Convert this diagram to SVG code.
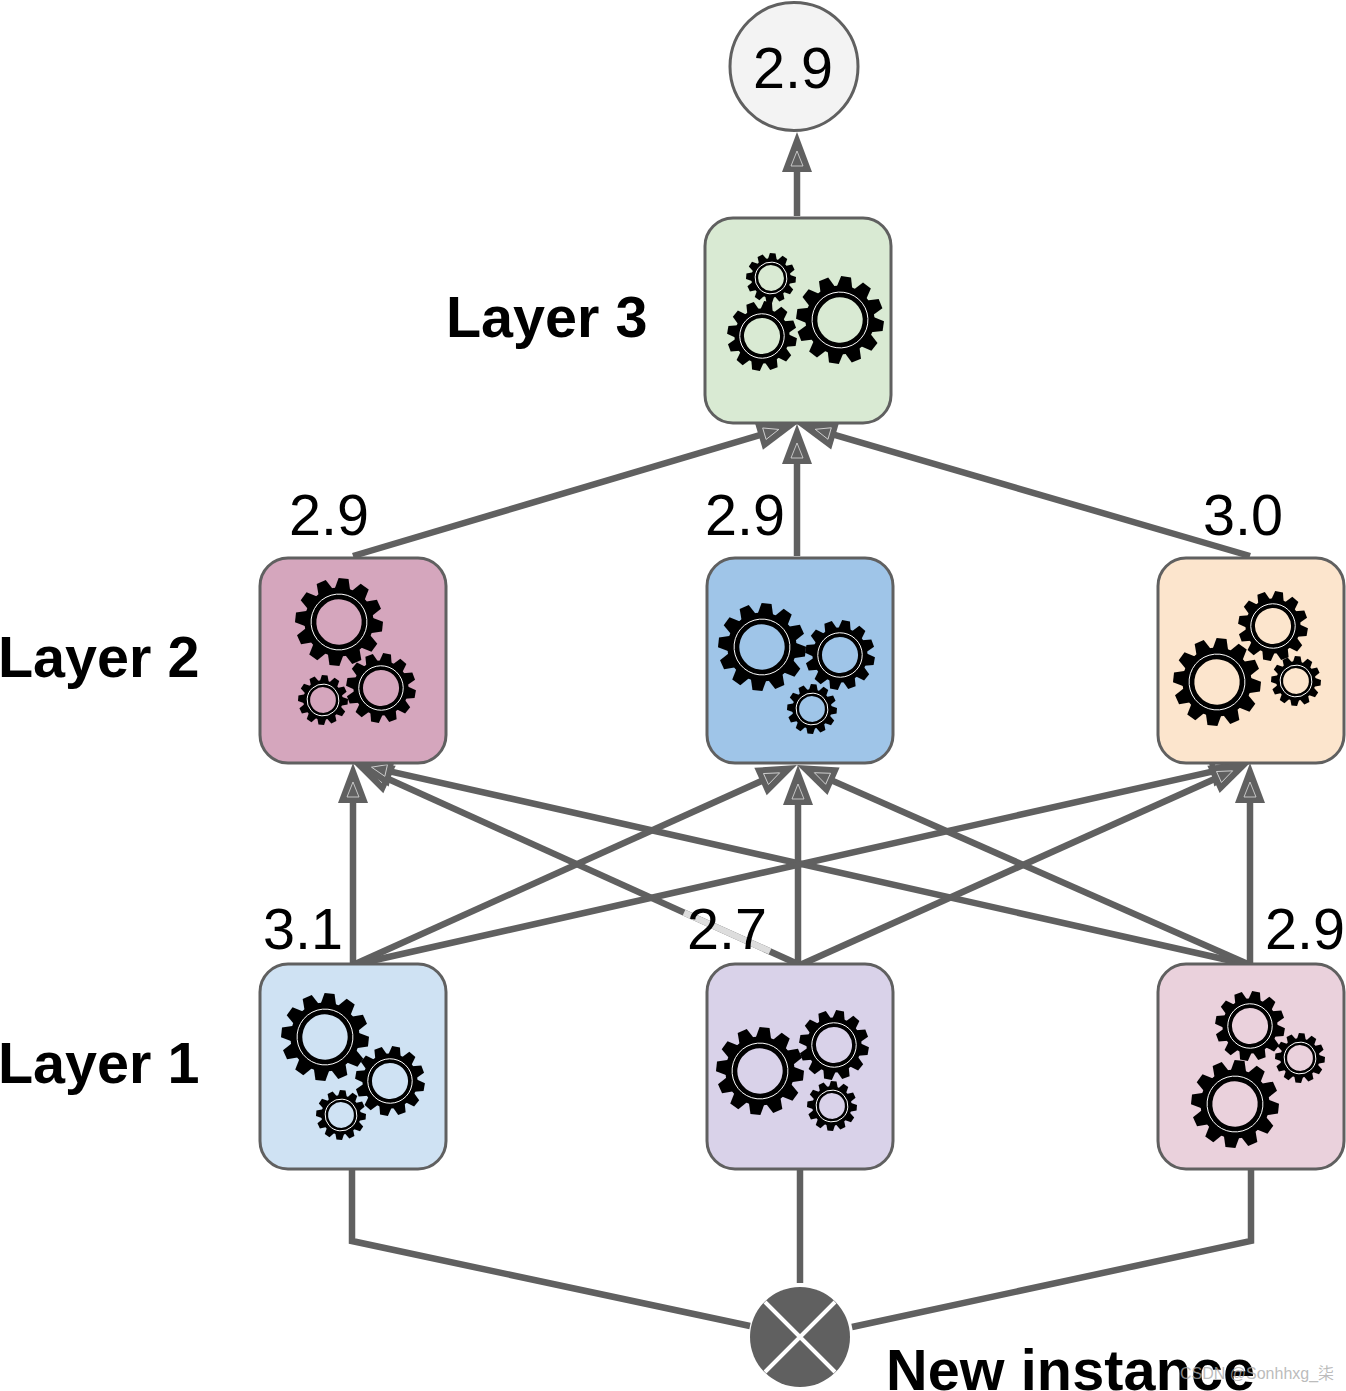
<svg xmlns="http://www.w3.org/2000/svg" width="1346" height="1391" viewBox="0 0 1346 1391">
<style>
.box{stroke:#606060;stroke-width:3}
.c{fill:none;stroke:#606060;stroke-width:6.5}
.a{marker-end:url(#arrow)}
text{font-family:"Liberation Sans",Arial,sans-serif;font-size:57.5px;fill:#000}
.b{font-weight:bold}
.ring{fill:none;stroke:#fff;stroke-width:1;vector-effect:non-scaling-stroke}
</style>
<defs>
<marker id="arrow" markerUnits="userSpaceOnUse" markerWidth="44" markerHeight="32" refX="25" refY="16" orient="auto" overflow="visible">
<polygon points="0,1 40,16 0,31" fill="#606060"/>
<polygon points="6,10 21,16 6,22" fill="none" stroke="#ddd" stroke-width="0.8"/>
</marker>
<polygon id="t" points=".73,-.18 .994,-.113 .994,.113 .73,.18"/>
<g id="gear">
<use href="#t"/><use href="#t" transform="rotate(30)"/><use href="#t" transform="rotate(60)"/><use href="#t" transform="rotate(90)"/><use href="#t" transform="rotate(120)"/><use href="#t" transform="rotate(150)"/><use href="#t" transform="rotate(180)"/><use href="#t" transform="rotate(210)"/><use href="#t" transform="rotate(240)"/><use href="#t" transform="rotate(270)"/><use href="#t" transform="rotate(300)"/><use href="#t" transform="rotate(330)"/>
<circle r=".65" fill="none" stroke="#000" stroke-width=".27"/>
<circle r=".635" class="ring"/>
</g>
</defs>
<rect width="1346" height="1391" fill="#fff"/>
<g id="connectors">
<path class="c" d="M352,1169V1241L750,1326"/>
<path class="c" d="M800,1169V1283"/>
<path class="c" d="M1251,1169V1241L852,1327"/>
<path class="c a" d="M797,216V147"/>
<path class="c a" d="M353,556L782.6,428.3"/>
<path class="c a" d="M797,556V439"/>
<path class="c a" d="M1250,556L811.4,428.2"/>
<path class="c a" d="M353,965V778"/>
<path class="c a" d="M800,965L366.7,769.2"/>
<path class="c a" d="M1250,965L367.6,766.3"/>
<path class="c a" d="M353,965L783.3,771.2"/>
<path class="c a" d="M798,965V780"/>
<path class="c a" d="M1250,965L810.7,771.1"/>
<path class="c a" d="M353,965L1235.4,766.3"/>
<path class="c a" d="M800,965L1236.3,769.2"/>
<path class="c a" d="M1250,965V778"/>
<path d="M684,912.6L770,951.4" fill="none" stroke="#ddd" stroke-width="6.5"/>
</g>
<g id="output">
<circle cx="794" cy="66.5" r="64" fill="#f3f3f3" stroke="#606060" stroke-width="3"/>
<text x="753" y="88">2.9</text>
</g>
<g id="layer3-node">
<rect class="box" x="705" y="218" width="186" height="205" rx="28" fill="#d9ead3"/>
<use href="#gear" transform="translate(840,320) rotate(8) scale(44)"/>
<use href="#gear" transform="translate(771,278) rotate(4) scale(25)"/>
<use href="#gear" transform="translate(762,336) rotate(10) scale(35)"/>
</g>
<g id="layer2-node1">
<rect class="box" x="260" y="558" width="186" height="205" rx="28" fill="#d5a6bd"/>
<use href="#gear" transform="translate(339,622) rotate(6) scale(44)"/>
<use href="#gear" transform="translate(381,688) rotate(10) scale(35)"/>
<use href="#gear" transform="translate(323,700) rotate(4) scale(25)"/>
</g>
<g id="layer2-node2">
<rect class="box" x="707" y="558" width="186" height="205" rx="28" fill="#9fc5e8"/>
<use href="#gear" transform="translate(762,647) rotate(6) scale(44)"/>
<use href="#gear" transform="translate(840,655) rotate(10) scale(35)"/>
<use href="#gear" transform="translate(812,709) rotate(4) scale(25)"/>
</g>
<g id="layer2-node3">
<rect class="box" x="1158" y="558" width="186" height="205" rx="28" fill="#fce5cd"/>
<use href="#gear" transform="translate(1217,682) rotate(6) scale(44)"/>
<use href="#gear" transform="translate(1273,626) rotate(10) scale(35)"/>
<use href="#gear" transform="translate(1296,681) rotate(4) scale(25)"/>
</g>
<g id="layer1-node1">
<rect class="box" x="260" y="964" width="186" height="205" rx="28" fill="#cfe2f3"/>
<use href="#gear" transform="translate(325,1037) rotate(6) scale(44)"/>
<use href="#gear" transform="translate(390,1081) rotate(10) scale(35)"/>
<use href="#gear" transform="translate(341,1115) rotate(4) scale(25)"/>
</g>
<g id="layer1-node2">
<rect class="box" x="707" y="964" width="186" height="205" rx="28" fill="#d9d2e9"/>
<use href="#gear" transform="translate(760,1071) rotate(6) scale(44)"/>
<use href="#gear" transform="translate(834,1045) rotate(10) scale(35)"/>
<use href="#gear" transform="translate(832,1106) rotate(4) scale(25)"/>
</g>
<g id="layer1-node3">
<rect class="box" x="1158" y="964" width="186" height="205" rx="28" fill="#ead1dc"/>
<use href="#gear" transform="translate(1235,1104) rotate(6) scale(44)"/>
<use href="#gear" transform="translate(1250,1026) rotate(10) scale(35)"/>
<use href="#gear" transform="translate(1300,1058) rotate(4) scale(25)"/>
</g>
<g id="input">
<circle cx="800" cy="1337" r="50" fill="#606060"/>
<path d="M765,1302L835,1372M835,1302L765,1372" stroke="#fff" stroke-width="4" fill="none"/>
</g>
<g id="labels">
<text x="289" y="535">2.9</text>
<text x="705" y="535">2.9</text>
<text x="1203" y="535">3.0</text>
<text x="263" y="949">3.1</text>
<text x="687" y="949">2.7</text>
<text x="1265" y="949">2.9</text>
<text class="b" x="446" y="337">Layer 3</text>
<text class="b" x="-2" y="677">Layer 2</text>
<text class="b" x="-2" y="1083">Layer 1</text>
<text class="b" x="886" y="1390" textLength="369">New instance</text>
<text x="1180" y="1379" style="font-size:16px;fill:#aaa;fill-opacity:.8;font-family:'Liberation Sans','Noto Sans CJK SC',sans-serif">CSDN @Sonhhxg_柒</text>
</g>
</svg>
